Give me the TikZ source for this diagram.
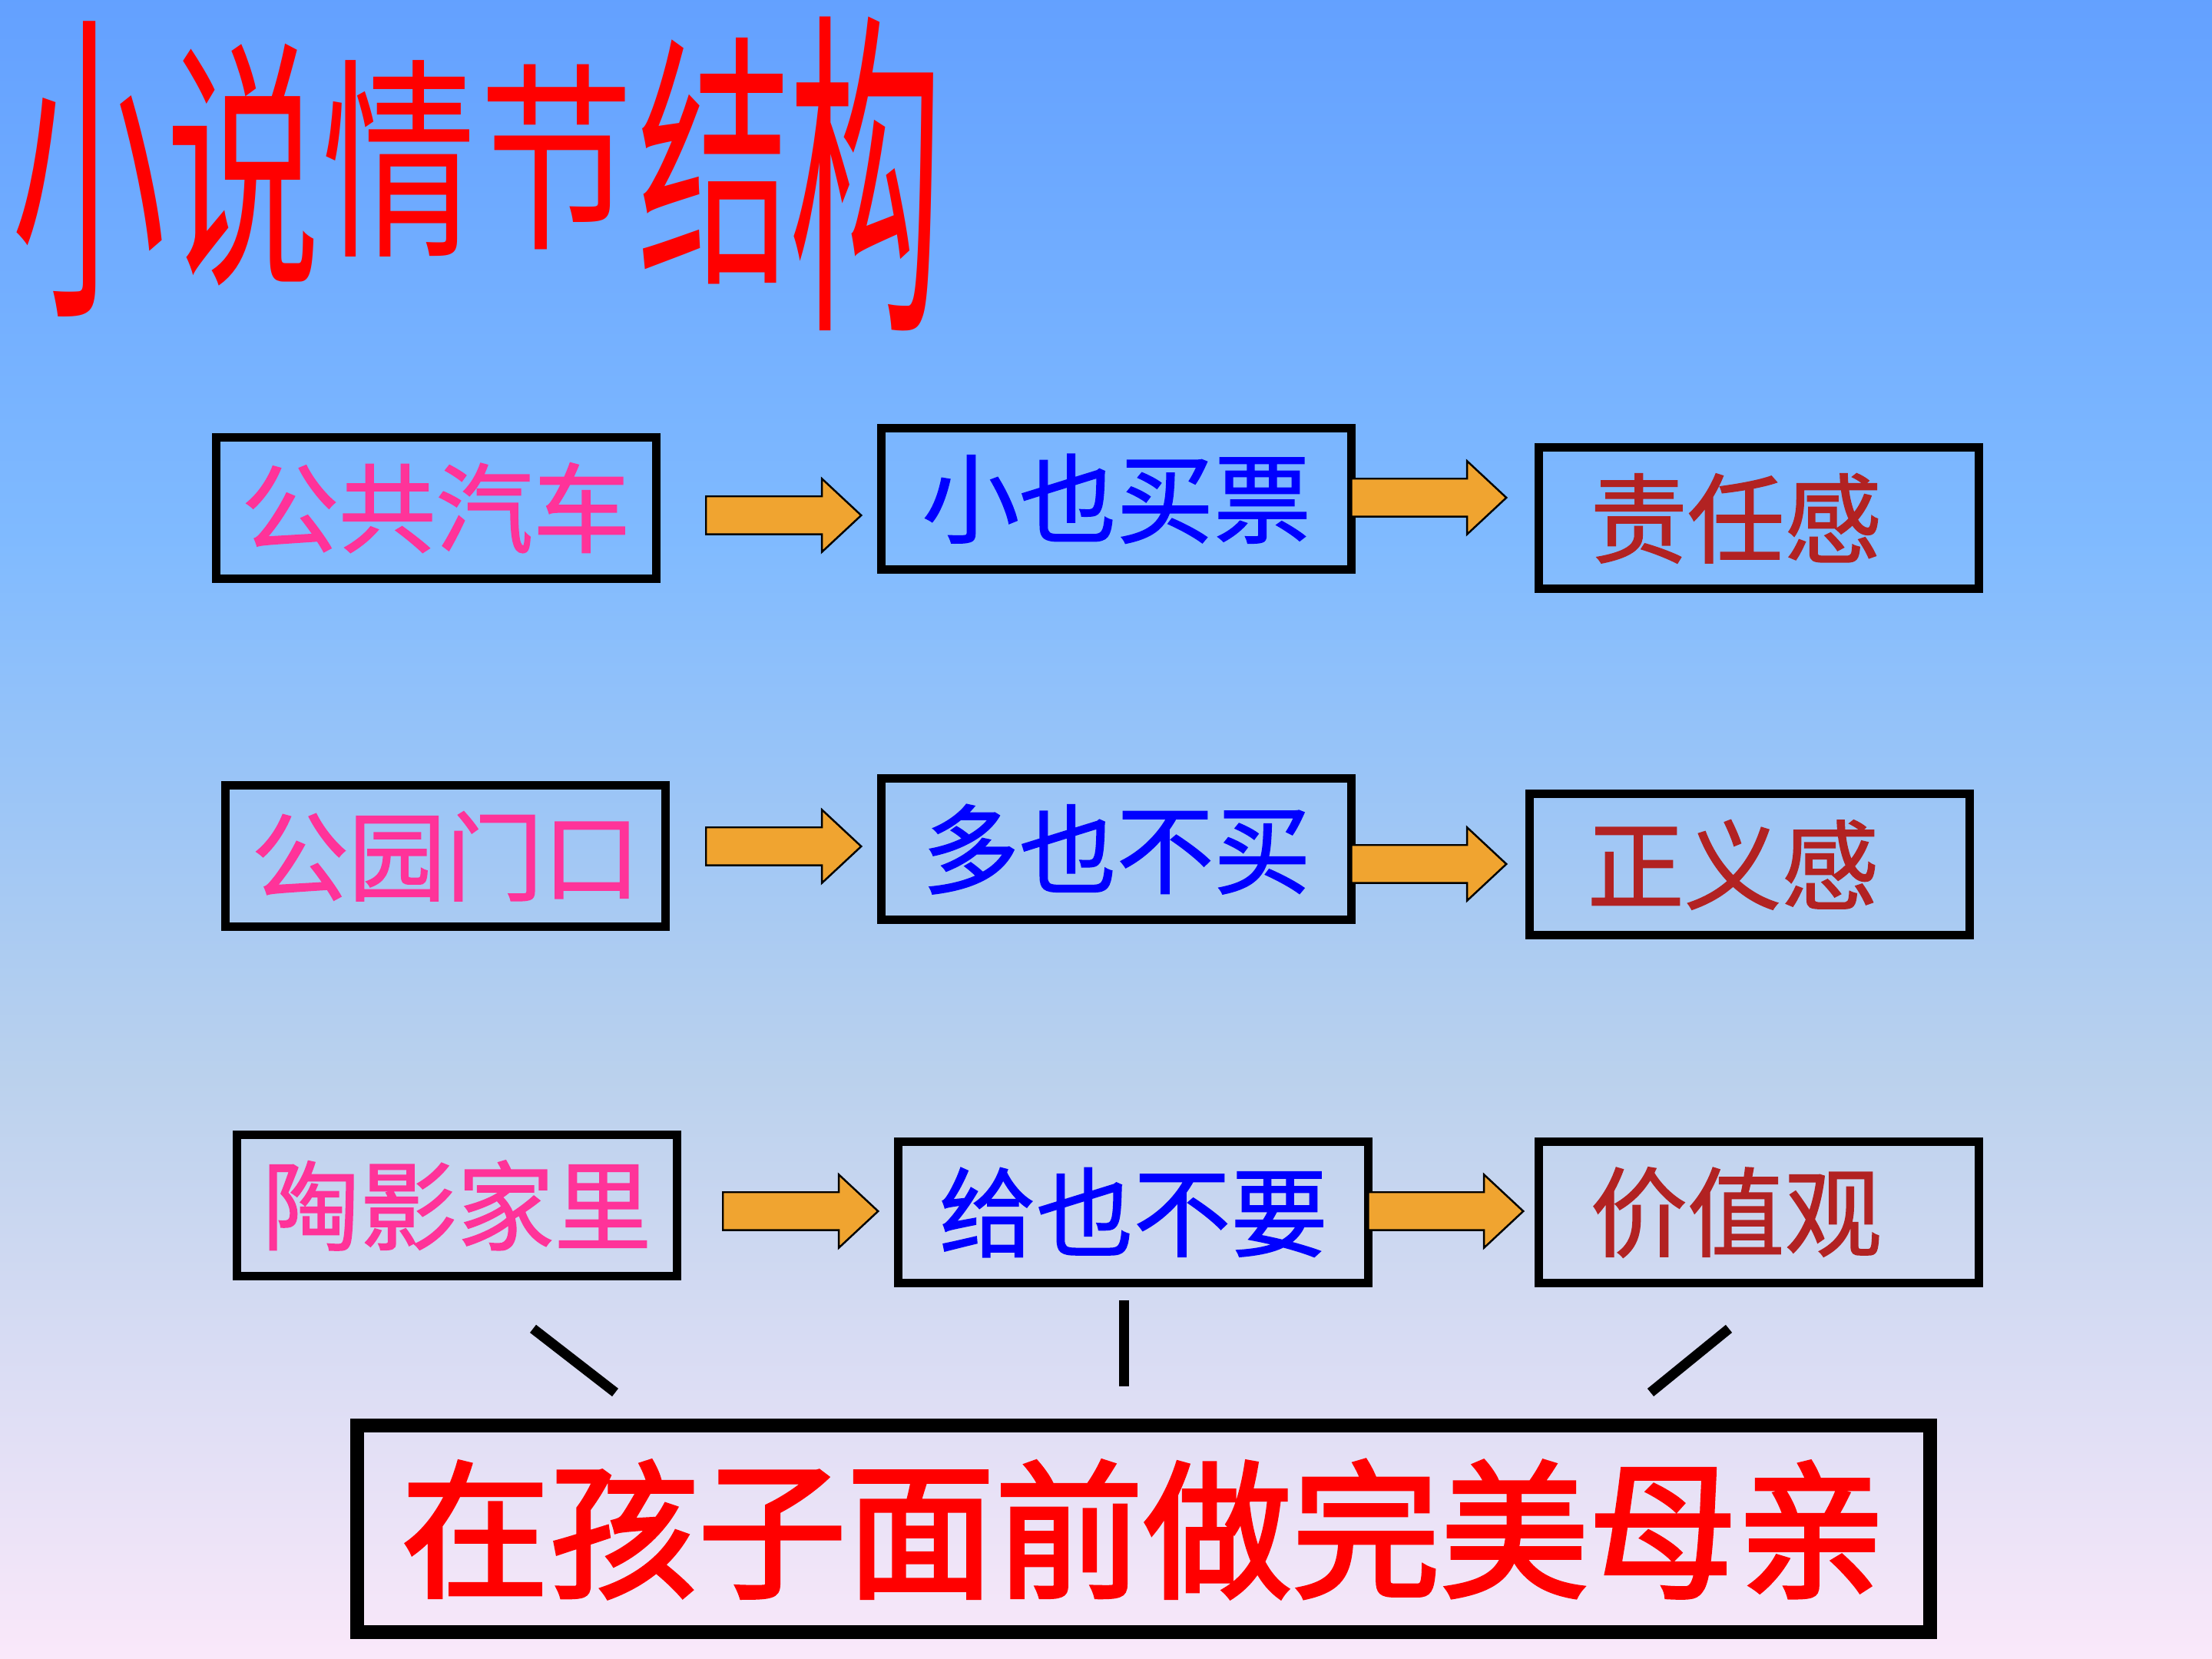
\documentclass[tikz,border=0pt]{standalone}
\usepackage{fontspec}
\newfontfamily\cjk{Noto Sans CJK SC}
\newfontfamily\cjkmid[FakeBold=1.2]{Noto Sans CJK SC}
\newfontfamily\cjkbold[FakeBold=2.5]{Noto Sans CJK SC}
\usepackage{xcolor}
\usepackage{tikz}
\usetikzlibrary{shapes.arrows,positioning}

\definecolor{scenepink}{RGB}{255,51,153}
\definecolor{deedblue}{RGB}{0,0,255}
\definecolor{virtuered}{RGB}{178,34,34}
\definecolor{floworange}{RGB}{240,164,48}
\definecolor{titlered}{RGB}{255,0,0}

\pgfdeclareverticalshading{bgshade}{100bp}{rgb(0bp)=(0.98,0.91,0.98); rgb(25bp)=(0.98,0.91,0.98); rgb(42.6bp)=(0.73,0.82,0.93); rgb(58.8bp)=(0.50,0.73,1); rgb(75bp)=(0.39,0.63,1); rgb(100bp)=(0.39,0.63,1)}

\begin{document}
\begin{tikzpicture}[
    scene/.style={rectangle, draw=black, line width=0.11cm, minimum width=5.73cm, minimum height=1.84cm, inner sep=0pt, text=scenepink, font=\cjkmid\fontsize{36}{40}\selectfont},
    deed/.style={scene, minimum width=6.12cm, text=deedblue},
    virtue/.style={scene, text=virtuered, inner xsep=0.59cm, text width=4.40cm, align=left},
    flow/.style={single arrow, draw=black, fill=floworange, line width=0.7pt, minimum height=2.02cm, minimum width=0.93cm, single arrow head extend=0.23cm, single arrow tip angle=86, inner xsep=0pt, inner ysep=0.235cm},
    link/.style={line width=0.13cm},
    moral/.style={rectangle, draw=black, line width=0.18cm, minimum width=20.48cm, minimum height=2.69cm, text=titlered, font=\cjkbold\fontsize{55}{60}\selectfont},
    headchar/.style={inner sep=0pt, text=titlered, font=\cjk\fontsize{57}{60}\selectfont}
]
    % Tlo
    \useasboundingbox (0,0) rectangle (28.8,21.6);
    \shade[shading=bgshade] (0,0) rectangle (28.8,21.6);

    % Tytul
    \foreach \ch/\xx/\yy/\sy [count=\i] in {小/1.16/19.40/2.12, 说/3.17/19.45/1.71, 情/5.20/19.53/1.39, 节/7.25/19.55/1.31, 结/9.31/19.50/1.74, 构/11.28/19.33/2.22}
        \node[headchar] (title\i) at (\xx,\yy) {\scalebox{1}[\sy]{\ch}};

    % Pierwszy wiersz
    \node[scene] (bus) at (5.675, 14.988) {公共汽车};
    \node[deed] (ticket) at (14.537, 15.107) {小也买票};
    \node[virtue] (duty) at (22.904, 14.850) {责任感};

    % Drugi wiersz
    \node[scene] (park) at (5.804, 10.451) {公园门口};
    \node[deed] (nobuy) at (14.537, 10.543) {多也不买};
    \node[virtue, text width=4.22cm] (justice) at (22.775, 10.341) {正义感};

    % Trzeci wiersz
    \node[scene] (home) at (5.951, 5.905) {陶影家里};
    \node[deed] (refuse) at (14.758, 5.814) {给也不要};
    \node[virtue] (values) at (22.904, 5.814) {价值观};

    % Strzalki
    \node[flow] (bus-arr) at (10.07, 14.89) {};
    \node[flow] (ticket-arr) at (18.47, 15.12) {};
    \node[flow] (park-arr) at (10.07, 10.58) {};
    \node[flow] (nobuy-arr) at (18.47, 10.35) {};
    \node[flow] (home-arr) at (10.29, 5.83) {};
    \node[flow] (refuse-arr) at (18.69, 5.83) {};

    % Podsumowanie
    \node[moral] (mother) at (14.886, 1.690) {在孩子面前做完美母亲};

    \coordinate (l-top) at (6.94, 4.30);
    \coordinate (l-bot) at (8.01, 3.47);
    \coordinate (m-top) at (14.63, 4.67);
    \coordinate (m-bot) at (14.63, 3.55);
    \coordinate (r-top) at (22.51, 4.30);
    \coordinate (r-bot) at (21.49, 3.47);
    \draw[link] (l-top) -- (l-bot);
    \draw[link] (m-top) -- (m-bot);
    \draw[link] (r-top) -- (r-bot);
\end{tikzpicture}
\end{document}
